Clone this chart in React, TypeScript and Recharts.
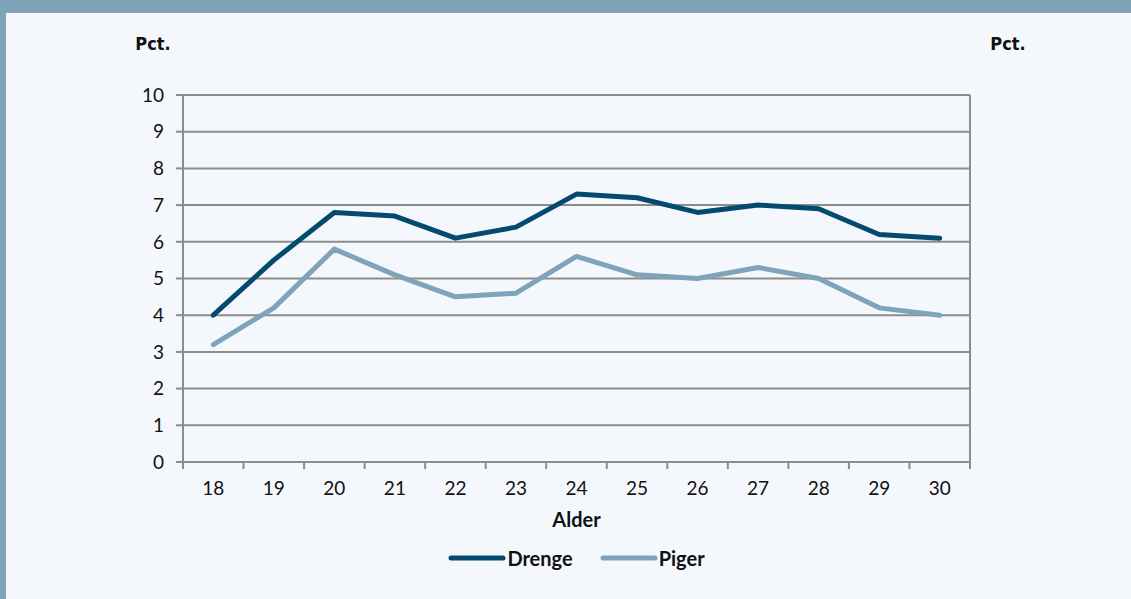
import React from "react";
import {
  LineChart,
  Line,
  XAxis,
  YAxis,
  CartesianGrid,
  Legend,
  Label,
} from "recharts";

const ages = [18, 19, 20, 21, 22, 23, 24, 25, 26, 27, 28, 29, 30];
const drenge = [4.0, 5.5, 6.8, 6.7, 6.1, 6.4, 7.3, 7.2, 6.8, 7.0, 6.9, 6.2, 6.1];
const piger = [3.2, 4.2, 5.8, 5.1, 4.5, 4.6, 5.6, 5.1, 5.0, 5.3, 5.0, 4.2, 4.0];
const yTicks = [0, 1, 2, 3, 4, 5, 6, 7, 8, 9, 10];
const boundaryTicks = [17.5, 18.5, 19.5, 20.5, 21.5, 22.5, 23.5, 24.5, 25.5, 26.5, 27.5, 28.5, 29.5, 30.5];

const data = ages.map((a, i) => ({ age: a, Drenge: drenge[i], Piger: piger[i] }));

const DARK = "#044a70";
const LIGHT = "#7fa3b9";
const GRID = "#8c8c8c";
const FONT = "Lato, 'Open Sans', sans-serif";

const LegendContent = () => (
  <div
    style={{
      display: "flex",
      justifyContent: "center",
      alignItems: "center",
      height: 28,
      fontFamily: FONT,
      fontWeight: 700,
      fontSize: 20,
      color: "#111",
    }}
  >
    {[
      { name: "Drenge", color: DARK },
      { name: "Piger", color: LIGHT },
    ].map((it, i) => (
      <div key={it.name} style={{ display: "flex", alignItems: "center", marginLeft: i ? 27 : 0 }}>
        <svg width={58} height={10} style={{ marginRight: 1 }}>
          <line x1={3} y1={5} x2={55} y2={5} stroke={it.color} strokeWidth={5} strokeLinecap="round" />
        </svg>
        <span>{it.name}</span>
      </div>
    ))}
  </div>
);

export default function App() {
  const tickStyle = { fontFamily: FONT, fontSize: 19, fill: "#111" };
  const pctStyle = {
    fontFamily: "'DejaVu Sans', sans-serif",
    fontStretch: "condensed",
    fontSize: 18,
    fontWeight: 700,
    fill: "#111",
  } as React.CSSProperties;
  return (
    <div
      style={{
        position: "absolute",
        left: 0,
        top: 0,
        width: 1131,
        height: 599,
        background: LIGHT,
        overflow: "hidden",
      }}
    >
      <div
        style={{
          position: "absolute",
          left: 6,
          top: 13,
          right: 0,
          bottom: 0,
          background: "#f4f8fc",
        }}
      />
      <div style={{ position: "absolute", left: 0, top: 0 }}>
        <LineChart
          width={1131}
          height={599}
          data={data}
          margin={{ top: 95, left: 123, right: 101, bottom: 27 }}
        >
          <CartesianGrid vertical={false} stroke={GRID} strokeWidth={2} yAxisId="left" xAxisId="b_labels" />
          <XAxis
            xAxisId="b_labels"
            dataKey="age"
            type="number"
            domain={[17.5, 30.5]}
            ticks={ages}
            interval={0}
            height={74}
            tickSize={0}
            tickMargin={12}
            axisLine={false}
            tickLine={false}
            tick={tickStyle}
          >
            <Label
              value="Alder"
              position="insideBottom"
              offset={17}
              style={{ fontFamily: FONT, fontSize: 20, fontWeight: 700, fill: "#111" }}
            />
          </XAxis>
          <XAxis
            xAxisId="a_ticks"
            dataKey="age"
            type="number"
            domain={[17.5, 30.5]}
            ticks={boundaryTicks}
            interval={0}
            height={8}
            tickSize={7}
            tickFormatter={() => ""}
            axisLine={{ stroke: GRID, strokeWidth: 2 }}
            tickLine={{ stroke: GRID, strokeWidth: 2 }}
          />
          <YAxis
            yAxisId="left"
            domain={[0, 10]}
            ticks={yTicks}
            interval={0}
            width={60}
            tickSize={7}
            tickMargin={12}
            axisLine={{ stroke: GRID, strokeWidth: 2 }}
            tickLine={{ stroke: GRID, strokeWidth: 2 }}
            tick={tickStyle}
          >
            <Label value="Pct." position="top" offset={45} style={pctStyle} />
          </YAxis>
          <YAxis
            yAxisId="right"
            orientation="right"
            domain={[0, 10]}
            ticks={yTicks}
            interval={0}
            width={60}
            tickSize={7}
            tickMargin={15}
            axisLine={{ stroke: GRID, strokeWidth: 2 }}
            tickLine={{ stroke: GRID, strokeWidth: 2 }}
            tick={tickStyle}
          >
            <Label value="Pct." position="top" offset={45} dx={8} style={pctStyle} />
          </YAxis>
          <Legend verticalAlign="bottom" content={<LegendContent />} />
          <Line
            xAxisId="b_labels"
            yAxisId="left"
            dataKey="Drenge"
            stroke={DARK}
            strokeWidth={5}
            strokeLinecap="round"
            strokeLinejoin="round"
            dot={false}
            isAnimationActive={false}
          />
          <Line
            xAxisId="b_labels"
            yAxisId="left"
            dataKey="Piger"
            stroke={LIGHT}
            strokeWidth={5}
            strokeLinecap="round"
            strokeLinejoin="round"
            dot={false}
            isAnimationActive={false}
          />
        </LineChart>
      </div>
    </div>
  );
}
